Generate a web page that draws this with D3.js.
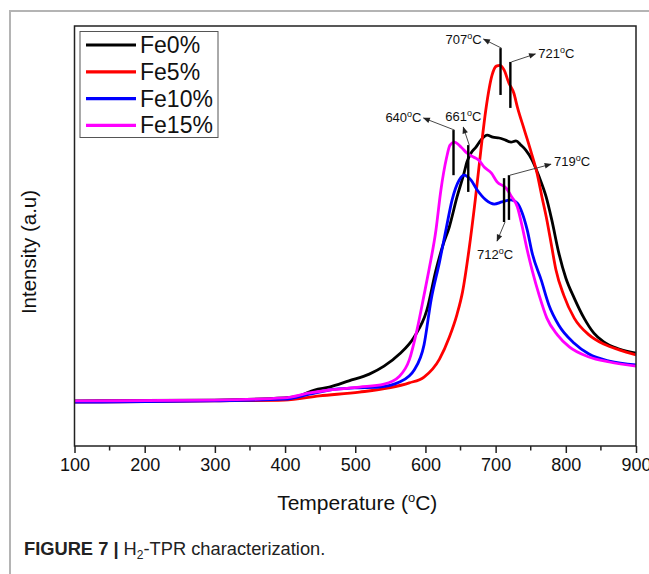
<!DOCTYPE html>
<html>
<head>
<meta charset="utf-8">
<script src="https://cdn.jsdelivr.net/npm/d3@7"></script>
<style>
  body { margin: 0; background: #fff; }
  svg { display: block; font-family: "Liberation Sans", Arial, sans-serif; }
</style>
</head>
<body>
<div id="chart"></div>
<script>
// ---------- data ----------
var seriesNames = ["Fe0%", "Fe5%", "Fe10%", "Fe15%"];
var seriesColors = ["#000000", "#ff0000", "#0000ff", "#ff00ff"];
var xTicks = [100, 200, 300, 400, 500, 600, 700, 800, 900];

// [temperature, intensity (a.u.)]
var fe0 = [[100,10.8],[200,10.9],[299,11.0],[399,11.5],[420,12.0],[442,13.4],[463,14.1],[491,15.6],
  [520,17.2],[541,19.1],[563,22.0],[584,26.1],[602,32.5],[615,42.1],[625,48.1],[634,52.4],[645,59.6],
  [655,65.3],[659,67.9],[665,70.1],[672,71.5],[679,73.2],[688,74.4],[696,73.9],[705,73.7],[714,73.2],
  [722,72.7],[729,73.0],[736,72.0],[743,70.8],[752,68.4],[762,64.4],[772,59.6],[780,54.1],[790,46.2],
  [800,40.2],[812,35.4],[826,30.6],[840,27.0],[854,24.9],[876,23.2],[900,22.2]];
var fe5 = [[100,10.5],[299,10.8],[399,11.0],[449,12.0],[506,12.9],[548,13.9],[577,15.1],[598,16.5],
  [620,20.8],[634,26.0],[645,31.5],[653,37.0],[662,46.9],[671,58.9],[679,70.8],[686,80.4],[695,88.8],
  [701,90.9],[706,91.1],[712,90.0],[719,86.8],[726,84.4],[731,81.1],[741,75.6],[751,70.1],[759,65.3],
  [766,59.6],[773,54.1],[780,47.6],[786,42.1],[797,36.1],[812,30.6],[833,26.6],[854,24.4],[876,23.0],
  [900,21.8]];
var fe10 = [[100,10.5],[299,10.8],[399,11.2],[435,12.4],[463,13.4],[499,13.9],[534,14.1],[563,15.3],
  [584,18.2],[598,24.2],[608,34.9],[620,44.0],[630,52.4],[638,58.9],[648,63.6],[655,64.8],[665,63.6],
  [674,61.2],[686,58.9],[698,57.9],[709,58.4],[722,58.9],[731,58.1],[738,55.7],[745,51.7],[752,46.2],
  [765,39.7],[776,33.7],[790,28.9],[812,24.6],[833,22.0],[862,20.3],[900,19.4]];
var fe15 = [[100,10.8],[299,11.0],[399,11.5],[435,12.7],[463,13.4],[506,14.1],[541,14.8],[563,16.7],
  [577,20.6],[588,27.8],[598,36.1],[605,42.1],[615,51.7],[622,61.2],[630,68.9],[635,72.0],[641,72.7],
  [651,71.5],[659,70.1],[669,69.1],[676,68.4],[684,66.7],[694,65.3],[702,63.2],[715,61.7],[723,59.6],
  [731,57.2],[738,52.4],[745,46.9],[752,42.1],[762,36.1],[773,30.6],[788,26.6],[805,23.7],[833,21.3],
  [862,20.1],[900,19.1]];
var allSeries = [fe0, fe5, fe10, fe15];

// peak markers: temperature, and intensity span of the short vertical bar
var peakTemps = [707, 721, 640, 661, 712, 719];
var peakSpans = [[84.0, 95.2], [80.9, 91.9], [64.8, 75.6], [60.8, 72.0], [53.6, 64.1], [54.1, 64.8]];

// ---------- layout ----------
var W = 649, H = 574;
var mLeft = 74.5, mRight = 636, mTop = 26, mBottom = 446;

var svg = d3.select("#chart").append("svg")
    .attr("width", W)
    .attr("height", H);

// page frame (light grey lines of the journal figure box)
svg.append("path")
    .attr("d", "M10,574 V11 H649")
    .style("fill", "none")
    .style("stroke", "#b4b4b4")
    .style("stroke-width", 2);

var x = d3.scaleLinear().domain([100, 900]).range([mLeft, mRight]);
var y = d3.scaleLinear().domain([0, 100.5]).range([mBottom, mTop]);

var defs = svg.append("defs");
defs.append("marker")
    .attr("id", "arr")
    .attr("viewBox", "0 0 10 10")
    .attr("refX", 9).attr("refY", 5)
    .attr("markerWidth", 9).attr("markerHeight", 7)
    .attr("markerUnits", "userSpaceOnUse")
    .attr("orient", "auto")
    .append("path")
    .attr("d", "M0,1 L10,5 L0,9 Z")
    .style("fill", "#222");

// curves
var line = d3.line()
    .curve(d3.curveMonotoneX)
    .x(function(d) { return x(d[0]); })
    .y(function(d) { return y(d[1]); });

var drawOrder = [0, 1, 2, 3];
drawOrder.forEach(function(i) {
    svg.append("path")
        .datum(allSeries[i])
        .attr("d", line)
        .style("fill", "none")
        .style("stroke", seriesColors[i])
        .style("stroke-width", 2.8)
        .style("stroke-linejoin", "round");
});

// plot box
svg.append("rect")
    .attr("x", mLeft).attr("y", mTop)
    .attr("width", mRight - mLeft).attr("height", mBottom - mTop)
    .style("fill", "none")
    .style("stroke", "#222")
    .style("stroke-width", 1.5);

// x axis: major + minor ticks
var xAxis = svg.append("g")
    .attr("transform", "translate(0," + mBottom + ")")
    .call(d3.axisBottom(x).tickValues(xTicks).tickSize(7).tickPadding(5).tickFormat(d3.format("d")));
xAxis.select(".domain").remove();
xAxis.selectAll("line").style("stroke", "#222").style("stroke-width", 1.5);
xAxis.selectAll("text")
    .style("font-size", "18px")
    .style("fill", "#111")
    .style("font-family", "'Liberation Sans', Arial, sans-serif");

var minor = d3.range(150, 900, 100);
svg.append("g").selectAll("line")
    .data(minor)
    .enter().append("line")
    .attr("x1", function(d) { return x(d); })
    .attr("x2", function(d) { return x(d); })
    .attr("y1", mBottom).attr("y2", mBottom + 4.5)
    .style("stroke", "#222")
    .style("stroke-width", 1.5);

// axis titles
var xt = svg.append("text")
    .attr("x", (mLeft + mRight) / 2 + 2)
    .attr("y", 510)
    .attr("text-anchor", "middle")
    .style("font-size", "21px")
    .style("fill", "#111");
xt.append("tspan").text("Temperature (");
xt.append("tspan").attr("dy", -8).style("font-size", "13px").text("o");
xt.append("tspan").attr("dy", 8).text("C)");

svg.append("text")
    .attr("transform", "translate(36,252) rotate(-90)")
    .attr("text-anchor", "middle")
    .style("font-size", "20.5px")
    .style("fill", "#111")
    .text("Intensity (a.u)");

// peak markers
svg.append("g").selectAll("line")
    .data(peakTemps)
    .enter().append("line")
    .attr("x1", function(d) { return x(d); })
    .attr("x2", function(d) { return x(d); })
    .attr("y1", function(d, i) { return y(peakSpans[i][0]); })
    .attr("y2", function(d, i) { return y(peakSpans[i][1]); })
    .style("stroke", "#000")
    .style("stroke-width", 2.4);

// labels + arrows: start of arrow at marker end, label offset (dx, dy), anchor
var annot = [
    { from: 1, ax: -17, ay: -9, lx: -19, ly: -4, anchor: "end" },
    { from: 1, ax: 25, ay: -8, lx: 28, ly: -4, anchor: "start" },
    { from: 1, ax: -30, ay: -12, lx: -32, ly: -8, anchor: "end" },
    { from: 1, ax: -5, ay: -18, lx: -5, ly: -24, anchor: "middle" },
    { from: 0, ax: -7, ay: 19, lx: -9, ly: 37, anchor: "middle" },
    { from: 1, ax: 42, ay: -11, lx: 45, ly: -9, anchor: "start" }
];

peakTemps.forEach(function(t, i) {
    var a = annot[i];
    var px = x(t);
    var py = y(peakSpans[i][a.from]);
    svg.append("line")
        .attr("x1", px + 1).attr("y1", py)
        .attr("x2", px + a.ax).attr("y2", py + a.ay)
        .attr("marker-end", "url(#arr)")
        .style("stroke", "#333")
        .style("stroke-width", 0.9);
    var lab = svg.append("text")
        .attr("x", px + a.lx)
        .attr("y", py + a.ly)
        .attr("text-anchor", a.anchor)
        .style("font-size", "13px")
        .style("fill", "#111");
    lab.append("tspan").text(t);
    lab.append("tspan").attr("dy", -5).style("font-size", "9px").text("o");
    lab.append("tspan").attr("dy", 5).text("C");
});

// legend
var lg = svg.append("g");
lg.append("rect")
    .attr("x", 80).attr("y", 31.5)
    .attr("width", 138).attr("height", 106)
    .style("fill", "#fff")
    .style("stroke", "#555")
    .style("stroke-width", 1);

seriesNames.forEach(function(name, i) {
    var yy = 45 + i * 26.8;
    lg.append("line")
        .attr("x1", 86).attr("x2", 136)
        .attr("y1", yy).attr("y2", yy)
        .style("stroke", seriesColors[i])
        .style("stroke-width", 3.2);
    lg.append("text")
        .attr("x", 140).attr("y", yy + 8)
        .style("font-size", "23px")
        .style("fill", "#111")
        .text(name);
});

// caption
var cap = svg.append("text")
    .attr("x", 24).attr("y", 555)
    .style("font-size", "18.3px")
    .style("fill", "#222");
cap.append("tspan").style("font-weight", "bold").text("FIGURE 7 | ");
cap.append("tspan").text("H");
cap.append("tspan").attr("dy", 4).style("font-size", "12px").text("2");
cap.append("tspan").attr("dy", -4).text("-TPR characterization.");
</script>
</body>
</html>
